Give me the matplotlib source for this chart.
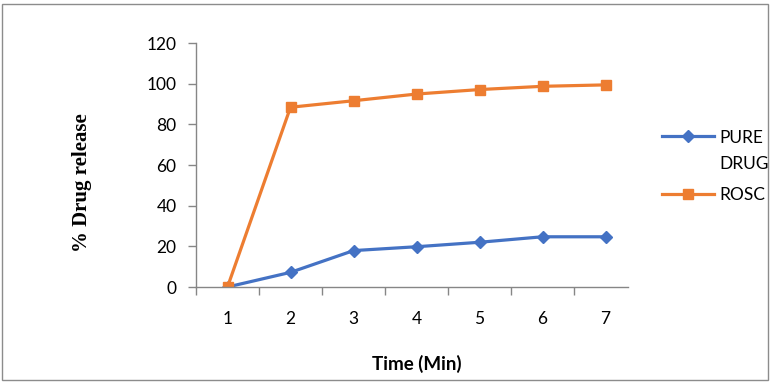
import matplotlib
matplotlib.use("Agg")
import matplotlib.pyplot as plt
from matplotlib.patches import Rectangle
from matplotlib.legend_handler import HandlerLine2D

times = [1, 2, 3, 4, 5, 6, 7]
pure_drug = [0, 7.2, 17.9, 19.8, 22.0, 24.7, 24.7]
rosc = [0, 88.4, 91.6, 94.9, 97.1, 98.7, 99.4]
y_ticks = [0, 20, 40, 60, 80, 100, 120]
series_labels = ["PURE\nDRUG", "ROSC"]

BLUE = "#4472C4"
ORANGE = "#ED7D31"
AXC = "#868686"

plt.rcParams['font.family'] = ['Lato', 'DejaVu Sans']


class ShiftHandler(HandlerLine2D):
    def __init__(self, shift=0.0, **kw):
        super().__init__(**kw)
        self.shift = shift

    def create_artists(self, legend, orig_handle, xdescent, ydescent, width, height, fontsize, trans):
        arts = super().create_artists(legend, orig_handle, xdescent, ydescent, width, height, fontsize, trans)
        for a in arts:
            a.set_ydata([y + self.shift for y in a.get_ydata()])
        return arts


fig = plt.figure(figsize=(7.72, 3.83), dpi=100)
fig.patches.append(Rectangle((2/772, 3/383), 766/772, 376/383, transform=fig.transFigure,
                             fill=False, edgecolor="#8c8c8c", linewidth=1.0))

ax = fig.add_axes([196/772, 1 - 287/383, (628 - 196)/772, (287 - 43)/383])
l1, = ax.plot(times, pure_drug, color=BLUE, lw=2.3, marker="D", ms=6.5, label=series_labels[0])
l2, = ax.plot(times, rosc, color=ORANGE, lw=2.3, marker="s", ms=7.5, label=series_labels[1])

ax.set_ylim(0, 120)
ax.set_xlim(0.5, 0.5 + (628 - 196) / 63.0)
ax.set_yticks(y_ticks)
ax.set_xticks(times)
ax.set_xticks([t + 0.5 for t in times[:-1]] + [0.5], minor=True)
ax.tick_params(axis="x", which="major", length=0, pad=17, labelsize=12.5)
ax.tick_params(axis="x", which="minor", length=6, color=AXC, width=1, direction="out")
ax.tick_params(axis="y", length=6, color=AXC, width=1, direction="out", pad=8, labelsize=12.5)

for s in ["top", "right"]:
    ax.spines[s].set_visible(False)
for s in ["left", "bottom"]:
    ax.spines[s].set_color(AXC)
    ax.spines[s].set_linewidth(1)

xl = ax.set_xlabel("Time (Min)", fontsize=13.5, fontweight="bold")
ax.xaxis.set_label_coords((417 - 196) / 432, (287 - 364) / 244)
xl.set_verticalalignment("center")
yl = ax.set_ylabel("% Drug release", fontsize=15, fontweight="bold",
                   family=["Liberation Serif", "DejaVu Serif"])
ax.yaxis.set_label_coords((82 - 196) / 432, (287 - 183) / 244)
yl.set_verticalalignment("center")

leg = ax.legend(loc="upper left", bbox_to_anchor=(646/772, 1 - 114/383),
                bbox_transform=fig.transFigure, frameon=False, fontsize=12.5,
                handlelength=3.0, labelspacing=0.85, handletextpad=0.3,
                handler_map={l1: ShiftHandler(shift=11)})
for t in leg.get_texts():
    t.set_linespacing(1.8)

fig.savefig("out.png", dpi=100)
